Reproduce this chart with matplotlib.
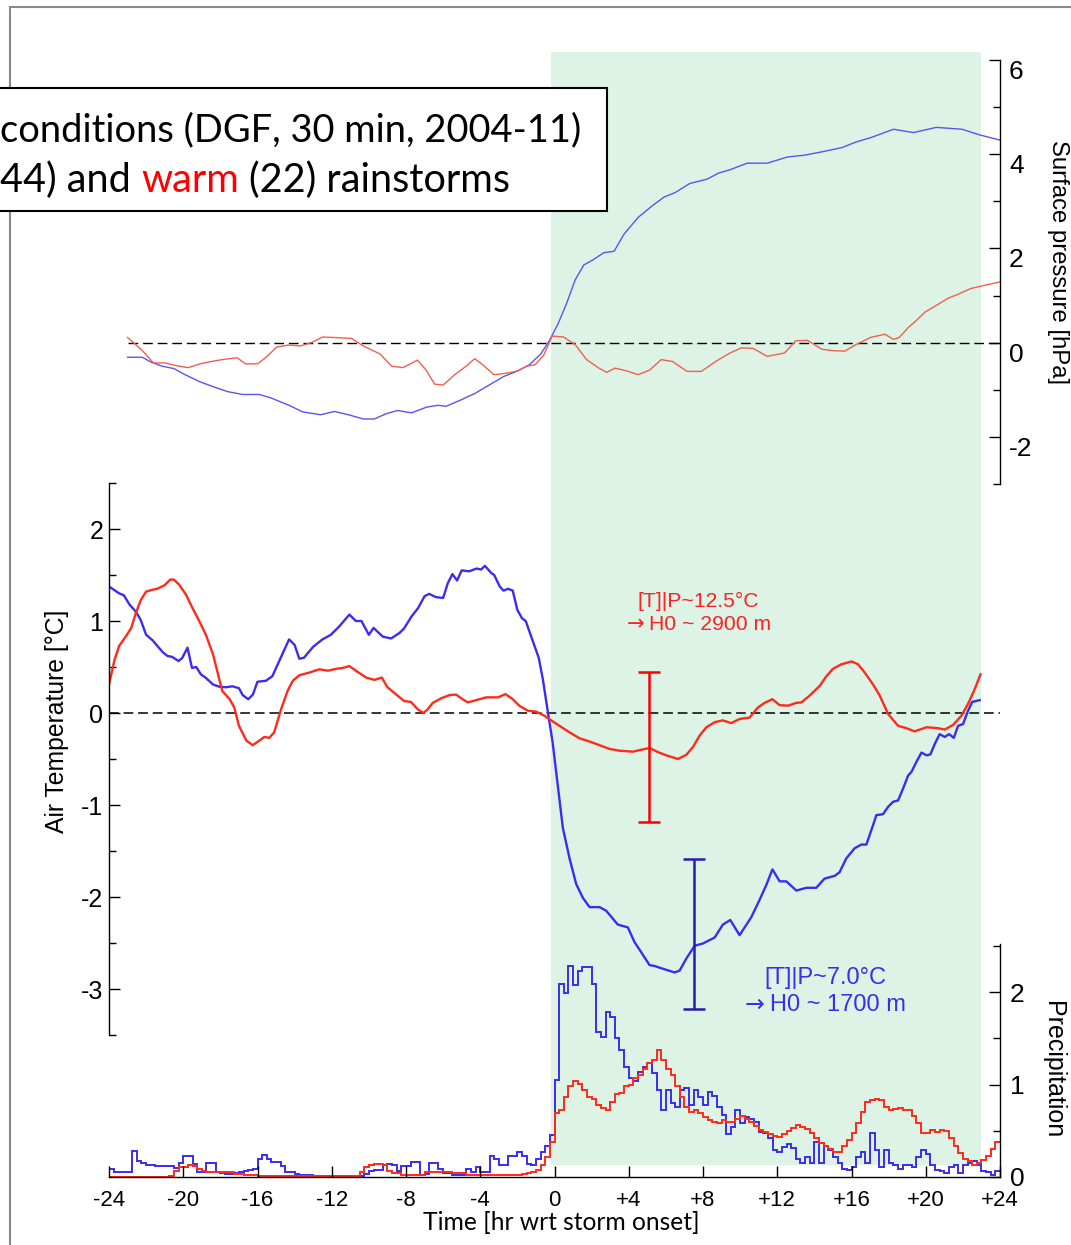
import matplotlib
matplotlib.use("Agg")
import matplotlib.pyplot as plt
import matplotlib.transforms as mtransforms
import numpy as np
from matplotlib.lines import Line2D
from matplotlib.patches import Rectangle

plt.rcParams["font.family"] = ["Liberation Sans", "DejaVu Sans"]
plt.rcParams["axes.unicode_minus"] = False
plt.rcParams["lines.scale_dashes"] = False

W_PX, H_PX, DPI = 1071, 1245, 100

# ---- composite air temperature [°C] ----
T_COLD_HR = [-24.0, -23.45, -23.2, -22.9, -22.55, -22.3, -22.0, -21.65, -21.4, -21.1,
             -20.85, -20.6, -20.25, -20.05, -19.77, -19.53, -19.3, -19.05, -18.8, -18.4,
             -18.05, -17.7, -17.35, -17.0, -16.8, -16.5, -16.25, -16.0, -15.55, -15.2,
             -14.75, -14.3, -14.0, -13.75, -13.5, -13.0, -12.5, -12.05, -11.6, -11.05,
             -10.7, -10.4, -10.0, -9.75, -9.25, -8.8, -8.35, -8.1, -7.7, -7.35,
             -7.0, -6.75, -6.4, -6.0, -5.75, -5.5, -5.25, -5.0, -4.6, -4.2,
             -3.95, -3.75, -3.4, -3.25, -2.95, -2.75, -2.5, -2.25, -2.0, -1.75,
             -1.55, -1.25, -0.85, -0.63, -0.35, -0.1, 0.09, 0.45, 0.81, 1.17,
             1.53, 1.89, 2.43, 2.79, 3.41, 3.95, 4.31, 4.67, 5.12, 5.39,
             5.84, 6.47, 6.74, 7.1, 7.55, 8.0, 8.63, 9.07, 9.47, 9.97,
             10.6, 11.05, 11.41, 11.74, 12.13, 12.49, 13.03, 13.57, 14.1, 14.55,
             15.1, 15.36, 15.72, 16.17, 16.53, 16.8, 17.16, 17.34, 17.7, 17.97,
             18.24, 18.51, 18.78, 19.05, 19.23, 19.5, 19.77, 20.04, 20.25, 20.49,
             20.75, 21.02, 21.26, 21.51, 21.74, 22.01, 22.28, 22.5, 22.91]
T_COLD = [1.375, 1.30, 1.28, 1.18, 1.10, 1.015, 0.85, 0.79, 0.73, 0.66,
          0.62, 0.61, 0.565, 0.60, 0.71, 0.49, 0.50, 0.42, 0.385, 0.31,
          0.285, 0.28, 0.29, 0.27, 0.195, 0.15, 0.20, 0.34, 0.35, 0.40,
          0.60, 0.80, 0.74, 0.59, 0.60, 0.72, 0.80, 0.85, 0.94, 1.07,
          1.00, 1.00, 0.85, 0.925, 0.83, 0.81, 0.87, 0.92, 1.05, 1.14,
          1.27, 1.295, 1.26, 1.25, 1.41, 1.51, 1.44, 1.55, 1.54, 1.57,
          1.56, 1.60, 1.52, 1.50, 1.375, 1.33, 1.35, 1.33, 1.12, 1.03,
          1.00, 0.83, 0.60, 0.37, 0.0, -0.32, -0.64, -1.25, -1.58, -1.86,
          -2.01, -2.11, -2.11, -2.15, -2.30, -2.33, -2.49, -2.60, -2.74, -2.75,
          -2.78, -2.82, -2.80, -2.67, -2.53, -2.505, -2.44, -2.30, -2.25, -2.415,
          -2.22, -2.03, -1.87, -1.70, -1.83, -1.83, -1.93, -1.90, -1.90, -1.80,
          -1.77, -1.73, -1.58, -1.47, -1.43, -1.43, -1.22, -1.11, -1.10, -1.02,
          -0.965, -0.95, -0.82, -0.68, -0.64, -0.53, -0.43, -0.46, -0.45, -0.335,
          -0.23, -0.26, -0.23, -0.27, -0.14, -0.12, 0.025, 0.12, 0.14]

T_WARM_HR = [-24.0, -23.7, -23.45, -23.1, -22.8, -22.55, -22.28, -22.0, -21.65, -21.4,
             -21.0, -20.7, -20.5, -20.2, -19.85, -19.5, -19.14, -18.78, -18.4, -18.15,
             -17.9, -17.5, -17.25, -17.0, -16.6, -16.26, -15.9, -15.63, -15.36, -15.1,
             -14.73, -14.38, -14.1, -13.75, -13.2, -12.67, -12.2, -11.77, -11.4, -11.05,
             -10.7, -10.15, -9.7, -9.3, -9.0, -8.55, -8.1, -7.73, -7.37, -7.06,
             -6.83, -6.56, -6.1, -5.66, -5.3, -5.03, -4.67, -4.22, -3.68, -3.05,
             -2.64, -2.25, -1.9, -1.44, -0.99, -0.54, -0.18, 0.27, 0.81, 1.35,
             1.89, 2.43, 2.96, 3.5, 4.22, 4.67, 5.12, 5.57, 6.02, 6.65,
             7.1, 7.46, 7.82, 8.18, 8.63, 9.07, 9.52, 9.97, 10.51, 10.96,
             11.32, 11.74, 12.13, 12.58, 13.03, 13.3, 13.75, 14.29, 14.65, 15.0,
             15.46, 16.0, 16.35, 16.71, 17.16, 17.52, 17.97, 18.51, 18.96, 19.4,
             20.04, 20.66, 21.02, 21.47, 21.92, 22.28, 22.64, 22.95]
T_WARM = [0.31, 0.58, 0.73, 0.83, 0.925, 1.09, 1.23, 1.32, 1.34, 1.35,
          1.39, 1.45, 1.45, 1.39, 1.285, 1.14, 1.00, 0.85, 0.64, 0.44,
          0.24, 0.15, 0.06, -0.14, -0.30, -0.35, -0.30, -0.26, -0.27, -0.21,
          0.04, 0.24, 0.35, 0.41, 0.44, 0.475, 0.46, 0.48, 0.49, 0.51,
          0.46, 0.385, 0.36, 0.385, 0.28, 0.205, 0.13, 0.12, 0.04, 0.0,
          0.04, 0.11, 0.16, 0.195, 0.20, 0.16, 0.115, 0.14, 0.17, 0.17,
          0.205, 0.15, 0.08, 0.025, 0.015, -0.03, -0.08, -0.14, -0.21, -0.275,
          -0.31, -0.35, -0.39, -0.41, -0.42, -0.40, -0.38, -0.425, -0.46, -0.50,
          -0.455, -0.37, -0.245, -0.155, -0.10, -0.08, -0.11, -0.065, -0.05, 0.06,
          0.11, 0.15, 0.085, 0.08, 0.11, 0.115, 0.19, 0.295, 0.40, 0.48,
          0.53, 0.56, 0.53, 0.44, 0.31, 0.19, -0.01, -0.14, -0.165, -0.20,
          -0.155, -0.165, -0.18, -0.13, -0.03, 0.10, 0.26, 0.42]

# ---- composite surface pressure anomaly [hPa] ----
P_COLD_HR = [-23.0, -22.2, -21.75, -21.13, -20.5, -19.9, -19.1, -18.35, -17.6, -16.8,
             -15.9, -15.3, -14.3, -13.56, -12.6, -11.86, -11.1, -10.3, -9.7, -9.08,
             -8.46, -7.7, -6.9, -6.3, -5.84, -5.07, -4.3, -3.52, -2.75, -1.98,
             -1.36, -0.74, -0.28, 0.19, 0.65, 1.11, 1.58, 2.04, 2.66, 3.21,
             3.74, 4.51, 5.28, 5.9, 6.52, 7.29, 8.22, 8.84, 9.45, 10.38,
             11.46, 12.54, 13.47, 14.4, 15.48, 16.25, 17.02, 18.26, 19.34, 20.57,
             21.96, 22.9, 24.0]
P_COLD = [-0.31, -0.31, -0.41, -0.50, -0.55, -0.68, -0.83, -0.94, -1.04, -1.10,
          -1.10, -1.17, -1.33, -1.47, -1.53, -1.46, -1.53, -1.62, -1.62, -1.51,
          -1.44, -1.49, -1.37, -1.33, -1.35, -1.22, -1.08, -0.90, -0.72, -0.60,
          -0.47, -0.24, 0.04, 0.40, 0.83, 1.33, 1.65, 1.75, 1.91, 1.94,
          2.30, 2.66, 2.91, 3.09, 3.19, 3.38, 3.47, 3.60, 3.67, 3.81,
          3.81, 3.94, 3.98, 4.05, 4.14, 4.26, 4.35, 4.53, 4.46, 4.57,
          4.53, 4.41, 4.30]

P_WARM_HR = [-23.0, -22.68, -22.2, -21.6, -20.98, -20.36, -19.74, -19.1, -18.5, -17.9,
             -17.1, -16.65, -16.0, -15.57, -14.95, -14.3, -13.7, -13.1, -12.5, -11.86,
             -10.94, -10.3, -9.4, -8.77, -8.16, -7.38, -6.92, -6.46, -6.0, -5.38,
             -4.76, -4.3, -3.83, -3.27, -2.6, -1.98, -1.51, -1.05, -0.59, -0.12,
             0.49, 1.11, 1.73, 2.35, 2.81, 3.27, 3.89, 4.51, 5.13, 5.75,
             6.36, 7.14, 7.91, 8.68, 9.45, 10.07, 10.69, 11.46, 12.39, 13.0,
             13.62, 14.4, 15.01, 15.63, 16.25, 17.02, 17.8, 18.26, 18.57, 19.03,
             19.49, 19.96, 20.57, 21.19, 21.81, 22.43, 23.2, 24.0]
P_WARM = [0.11, 0.0, -0.17, -0.43, -0.43, -0.49, -0.53, -0.45, -0.40, -0.36,
          -0.32, -0.45, -0.45, -0.32, -0.09, -0.05, -0.07, 0.0, 0.12, 0.11,
          0.09, -0.07, -0.24, -0.50, -0.53, -0.37, -0.58, -0.88, -0.90, -0.68,
          -0.50, -0.34, -0.48, -0.68, -0.65, -0.60, -0.50, -0.47, -0.27, 0.14,
          0.12, -0.04, -0.36, -0.53, -0.63, -0.54, -0.60, -0.68, -0.58, -0.36,
          -0.40, -0.61, -0.61, -0.40, -0.22, -0.11, -0.12, -0.29, -0.22, 0.04,
          0.05, -0.14, -0.17, -0.18, -0.04, 0.11, 0.18, 0.07, 0.11, 0.31,
          0.47, 0.65, 0.79, 0.94, 1.04, 1.15, 1.22, 1.29]

# ---- composite precipitation, 15-min bins from -24 h to +24 h ----
PRECIP_BIN_HR = 0.25
PRECIP_COLD_BEFORE = [
    0.09, 0.05, 0.05, 0.05, 0.05, 0.28, 0.17, 0.15, 0.13, 0.13, 0.12, 0.12,
    0.12, 0.12, 0.10, 0.15, 0.23, 0.23, 0.14, 0.05, 0.05, 0.15, 0.15, 0.05,
    0.04, 0.03, 0.03, 0.04, 0.05, 0.06, 0.08, 0.09, 0.20, 0.24, 0.20, 0.16,
    0.16, 0.12, 0.05, 0.05, 0.03, 0.02, 0.02, 0.02, 0.01, 0.01, 0.01, 0.01,
    0.01, 0.01, 0.01, 0.01, 0.01, 0.01, 0.01, 0.03, 0.07, 0.08, 0.08, 0.13,
    0.14, 0.13, 0.06, 0.12, 0.12, 0.16, 0.16, 0.02, 0.03, 0.15, 0.15, 0.09,
    0.04, 0.04, 0.02, 0.02, 0.02, 0.09, 0.05, 0.11, 0.05, 0.05, 0.23, 0.20,
    0.13, 0.13, 0.23, 0.23, 0.27, 0.23, 0.14, 0.13, 0.20, 0.27, 0.33, 0.45]
PRECIP_COLD_AFTER = [
    1.05, 2.09, 1.99, 2.28, 2.08, 2.23, 2.27, 2.27, 2.09, 1.57, 1.51, 1.78,
    1.73, 1.50, 1.37, 1.19, 1.07, 1.04, 1.14, 1.19, 1.23, 1.13, 0.94, 0.72,
    0.94, 0.80, 0.76, 0.94, 0.96, 0.78, 0.94, 0.87, 0.78, 0.92, 0.88, 0.76,
    0.67, 0.47, 0.54, 0.72, 0.58, 0.65, 0.63, 0.60, 0.49, 0.48, 0.42, 0.29,
    0.27, 0.32, 0.36, 0.31, 0.20, 0.15, 0.22, 0.15, 0.38, 0.15, 0.33, 0.29,
    0.22, 0.15, 0.09, 0.08, 0.11, 0.22, 0.27, 0.15, 0.48, 0.29, 0.11, 0.29,
    0.15, 0.13, 0.09, 0.13, 0.13, 0.11, 0.22, 0.29, 0.25, 0.13, 0.08, 0.06,
    0.04, 0.11, 0.13, 0.04, 0.13, 0.15, 0.17, 0.13, 0.06, 0.05, 0.02, 0.06]
PRECIP_WARM_BEFORE = [
    0.0, 0.0, 0.0, 0.0, 0.0, 0.0, 0.0, 0.0, 0.0, 0.0, 0.0, 0.0,
    0.0, 0.01, 0.06, 0.11, 0.11, 0.13, 0.12, 0.09, 0.07, 0.05, 0.05, 0.05,
    0.05, 0.05, 0.05, 0.03, 0.03, 0.02, 0.02, 0.02, 0.01, 0.01, 0.01, 0.01,
    0.01, 0.01, 0.01, 0.01, 0.01, 0.01, 0.01, 0.01, 0.01, 0.01, 0.01, 0.01,
    0.01, 0.01, 0.01, 0.01, 0.01, 0.01, 0.05, 0.11, 0.13, 0.14, 0.14, 0.13,
    0.07, 0.04, 0.04, 0.02, 0.02, 0.02, 0.02, 0.02, 0.05, 0.05, 0.05, 0.05,
    0.05, 0.05, 0.04, 0.04, 0.04, 0.02, 0.02, 0.02, 0.02, 0.02, 0.02, 0.02,
    0.02, 0.02, 0.02, 0.02, 0.02, 0.03, 0.04, 0.05, 0.08, 0.13, 0.22, 0.38]
PRECIP_WARM_AFTER = [
    0.69, 0.72, 0.87, 0.98, 1.04, 1.01, 0.94, 0.87, 0.84, 0.78, 0.75, 0.72,
    0.81, 0.90, 0.91, 0.98, 0.99, 1.07, 1.10, 1.17, 1.23, 1.27, 1.37, 1.27,
    1.17, 1.10, 0.98, 0.87, 0.76, 0.70, 0.73, 0.69, 0.65, 0.62, 0.59, 0.58,
    0.62, 0.59, 0.60, 0.63, 0.66, 0.63, 0.60, 0.55, 0.51, 0.49, 0.47, 0.44,
    0.43, 0.46, 0.50, 0.53, 0.56, 0.54, 0.52, 0.48, 0.42, 0.37, 0.33, 0.30,
    0.27, 0.27, 0.33, 0.40, 0.48, 0.58, 0.70, 0.81, 0.83, 0.84, 0.83, 0.76,
    0.72, 0.74, 0.75, 0.73, 0.72, 0.66, 0.58, 0.48, 0.48, 0.51, 0.49, 0.51,
    0.50, 0.42, 0.33, 0.26, 0.19, 0.17, 0.13, 0.15, 0.18, 0.23, 0.30, 0.38]

# error bars on the temperature composites (low / high, °C)
ERR_HR = [5.1, 7.5]
ERR_LO = [-1.18, -3.22]
ERR_HI = [0.45, -1.59]

STORM_SPAN_HR = (-0.2, 23.0)
X_TICKS = list(range(-24, 25, 4))
X_TICK_LABELS = [f"+{v}" if v > 0 else f"{v}" for v in X_TICKS]

COLD_T = "#3b2cf0"
WARM_T = "#ff2a1a"
COLD_P = "#5a55f0"
WARM_P = "#f0604e"
SHADE = "#ddf3e6"
TITLE_FONT = ["Lato", "DejaVu Sans"]


def px_axes(fig, left, top, right, bottom, z):
    ax = fig.add_axes([left / W_PX, 1 - bottom / H_PX,
                       (right - left) / W_PX, (bottom - top) / H_PX])
    ax.set_facecolor("none")
    ax.set_zorder(z)
    for s in ax.spines.values():
        s.set_visible(False)
    ax.set_xlim(-24, 24)
    ax.tick_params(which="both", bottom=False, left=False, right=False, top=False,
                   labelbottom=False, labelleft=False)
    return ax


def fit_text(fig, x, y, s, target_px, size0, **kw):
    t = fig.text(x, y, s, fontsize=size0, **kw)
    r = fig.canvas.get_renderer()
    w = t.get_window_extent(r).width
    t.set_fontsize(size0 * target_px / w)
    return t


def arrow_line(ax, x, y, rest, color, size):
    """'→ rest' centred on (x, y); the arrow is drawn in DejaVu (longer glyph)."""
    r = ax.figure.canvas.get_renderer()
    a = ax.text(x, y, "→", color=color, fontsize=size, family="DejaVu Sans",
                ha="left", va="center")
    b = ax.text(x, y, rest, color=color, fontsize=size, ha="left", va="center")
    wa = a.get_window_extent(r).width
    wb = b.get_window_extent(r).width
    gap = 0.3 * size
    total = wa + gap + wb
    base = ax.transData
    a.set_transform(base + mtransforms.ScaledTranslation(-total / 2 / DPI, 0,
                                                         ax.figure.dpi_scale_trans))
    b.set_transform(base + mtransforms.ScaledTranslation((-total / 2 + wa + gap) / DPI, 0,
                                                         ax.figure.dpi_scale_trans))


fig = plt.figure(figsize=(W_PX / DPI, H_PX / DPI), dpi=DPI)

# storm shading
ax_bg = px_axes(fig, 109, 52, 1000, 1177, 0)
ax_bg.set_ylim(0, 1)
ax_bg.axvspan(*STORM_SPAN_HR, ymin=12 / 1125, ymax=1, color=SHADE, lw=0)

# surface pressure panel
ax_p = px_axes(fig, 109, 60, 1000, 484, 1)
ax_p.set_ylim(-3, 6)
ax_p.spines["right"].set_visible(True)
ax_p.spines["right"].set_linewidth(1.0)
ax_p.yaxis.set_ticks_position("right")
ax_p.set_yticks([-2, 0, 2, 4, 6])
ax_p.set_yticks([-3, -1, 1, 3, 5], minor=True)
ax_p.tick_params(axis="y", which="both", right=True, direction="in", width=1.0,
                 labelright=False)
ax_p.tick_params(axis="y", which="major", length=8)
ax_p.tick_params(axis="y", which="minor", length=5)
ax_p.plot([-23, 24], [0, 0], color="black", lw=1.0, dashes=(7, 3.5))
ax_p.plot(P_COLD_HR, P_COLD, color=COLD_P, lw=1.0)
ax_p.plot(P_WARM_HR, P_WARM, color=WARM_P, lw=1.0)
lab_tr = (mtransforms.blended_transform_factory(ax_p.transAxes, ax_p.transData)
          + mtransforms.ScaledTranslation(9 / DPI, -12 / DPI, fig.dpi_scale_trans))
for v in [-2, 0, 2, 4, 6]:
    ax_p.text(1.0, v, f"{v}", transform=lab_tr, ha="left", va="center", fontsize=19)

# air temperature panel
ax_t = px_axes(fig, 109, 483, 1000, 1035, 2)
ax_t.set_ylim(-3.5, 2.5)
ax_t.spines["left"].set_visible(True)
ax_t.spines["left"].set_linewidth(1.0)
ax_t.set_yticks([-3, -2, -1, 0, 1, 2])
ax_t.set_yticks([-3.5, -2.5, -1.5, -0.5, 0.5, 1.5, 2.5], minor=True)
ax_t.tick_params(axis="y", which="both", left=True, direction="in", width=1.0)
ax_t.tick_params(axis="y", which="major", length=8, labelleft=True, labelsize=18, pad=4)
ax_t.tick_params(axis="y", which="minor", length=5)
ax_t.plot([-24, 24], [0, 0], color="black", lw=1.1, dashes=(7, 3.5))
ax_t.plot(T_COLD_HR, T_COLD, color=COLD_T, lw=1.7)
ax_t.plot(T_WARM_HR, T_WARM, color=WARM_T, lw=1.7)
err_mid = [(lo + hi) / 2 for lo, hi in zip(ERR_LO, ERR_HI)]
err_half = [(hi - lo) / 2 for lo, hi in zip(ERR_LO, ERR_HI)]
for i, col in enumerate(["#ff0000", "#2a1ab0"]):
    ax_t.errorbar([ERR_HR[i]], [err_mid[i]], yerr=[err_half[i]], fmt="none",
                  ecolor=col, elinewidth=1.8, capsize=8, capthick=1.8)
ax_t.text(7.77, 1.21, "[T]|P~12.5°C", color="#ff2020", fontsize=15.2,
          ha="center", va="center")
arrow_line(ax_t, 7.77, 0.96, "H0 ~ 2900 m", "#ff2020", 15.2)
ax_t.text(14.6, -2.88, "[T]|P~7.0°C", color=COLD_T, fontsize=17,
          ha="center", va="center")
arrow_line(ax_t, 14.6, -3.17, "H0 ~ 1700 m", COLD_T, 17)

# precipitation panel + time axis
ax_r = px_axes(fig, 109, 944, 1000, 1177, 3)
ax_r.set_ylim(0, 2.52)
for side in ("right", "bottom"):
    ax_r.spines[side].set_visible(True)
    ax_r.spines[side].set_linewidth(1.0)
ax_r.yaxis.set_ticks_position("right")
ax_r.set_yticks([0, 1, 2])
ax_r.set_yticks([0.5, 1.5, 2.5], minor=True)
ax_r.tick_params(axis="y", which="both", right=True, direction="in", width=1.0)
ax_r.tick_params(axis="y", which="major", length=8, labelright=True, labelsize=19, pad=7)
ax_r.tick_params(axis="y", which="minor", length=5)
ax_r.set_xticks(X_TICKS)
ax_r.set_xticklabels(X_TICK_LABELS)
ax_r.tick_params(axis="x", which="major", bottom=True, direction="in", length=8,
                 width=1.0, labelbottom=True, labelsize=16, pad=9)
edges = np.arange(-24, 24 + PRECIP_BIN_HR / 2, PRECIP_BIN_HR)
ax_r.stairs(PRECIP_COLD_BEFORE + PRECIP_COLD_AFTER, edges, color=COLD_T, lw=1.4,
            baseline=None)
ax_r.stairs(PRECIP_WARM_BEFORE + PRECIP_WARM_AFTER, edges, color=WARM_T, lw=1.4,
            baseline=None)

# axis titles
fig.text(57 / W_PX, 1 - 721 / H_PX, "Air Temperature [°C]", rotation=90,
         ha="center", va="center", fontsize=17.8)
fig.text(1058 / W_PX, 1 - 262 / H_PX, "Surface pressure [hPa]", rotation=-90,
         ha="center", va="center", fontsize=17.2)
fig.text(1053 / W_PX, 1 - 1070 / H_PX, "Precipitation", rotation=-90,
         ha="center", va="center", fontsize=18)
fit_text(fig, 561 / W_PX, 1 - 1223 / H_PX, "Time [hr wrt storm onset]", 277, 17,
         ha="center", va="center", family=TITLE_FONT)

# outer frame of the slide
for xs, ys in (([10, 10], [7, H_PX]), ([10, W_PX], [7, 7])):
    fig.add_artist(Line2D([x / W_PX for x in xs], [1 - y / H_PX for y in ys],
                          color="#8a8a8a", lw=1.5, transform=fig.transFigure))

# title box (cut at the left edge)
fig.add_artist(Rectangle((-5 / W_PX, 1 - 211 / H_PX), 612 / W_PX, 123 / H_PX,
                         transform=fig.transFigure, facecolor="white",
                         edgecolor="black", lw=1.5, zorder=10))
fit_text(fig, 0, 1 - 141 / H_PX, "conditions (DGF, 30 min, 2004-11)", 582, 24,
         ha="left", va="baseline", family=TITLE_FONT, zorder=11)
line2 = "44) and warm (22) rainstorms"
probe = fit_text(fig, 0, 1 - 192 / H_PX, line2, 511, 24, ha="left", va="baseline",
                 family=TITLE_FONT)
tsize = probe.get_fontsize()
probe.remove()
renderer = fig.canvas.get_renderer()
pieces = [("44) and", "black"), (" warm", "red"), (" (22) rainstorms", "black")]
acc = ""
for piece, col in pieces:
    acc += piece
    probe = fig.text(0, 1 - 192 / H_PX, acc, fontsize=tsize, family=TITLE_FONT,
                     ha="left", va="baseline")
    x1 = probe.get_window_extent(renderer).x1 / W_PX
    probe.remove()
    fig.text(x1, 1 - 192 / H_PX, piece.strip(), fontsize=tsize, family=TITLE_FONT,
             ha="right", va="baseline", color=col, zorder=11)

fig.savefig("out.png", dpi=DPI)
